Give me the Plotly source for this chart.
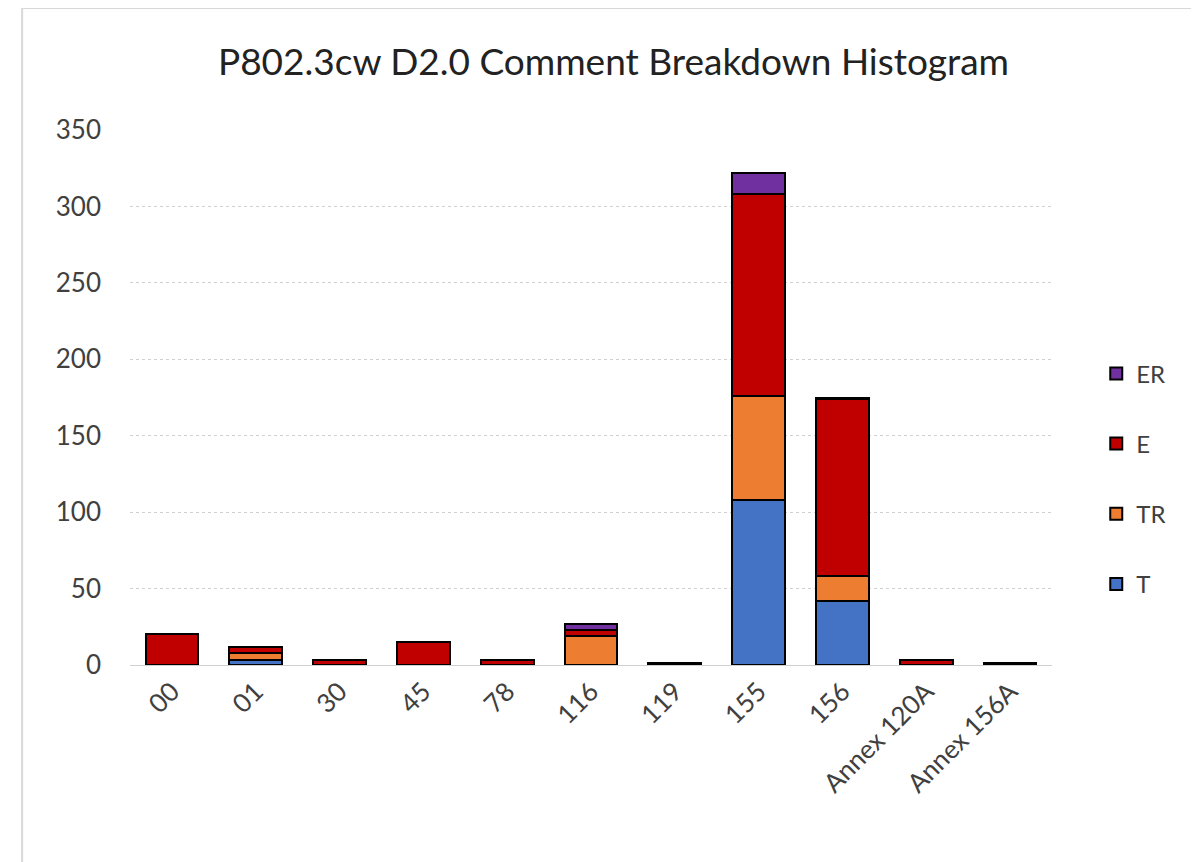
import plotly.graph_objects as go

categories = ["00", "01", "30", "45", "78", "116", "119", "155", "156", "Annex 120A", "Annex 156A"]
t_vals  = [0, 3, 0, 0, 0, 0, 0, 108, 42, 0, 0]
tr_vals = [0, 5, 0, 0, 0, 19, 0, 68, 16, 0, 0]
e_vals  = [20, 4, 3, 15, 3, 4, 1, 132, 116, 3, 1]
er_vals = [0, 0, 0, 0, 0, 4, 0, 14, 1, 0, 0]

series = [("T", t_vals, "#4472C4", 4), ("TR", tr_vals, "#ED7D31", 3),
          ("E", e_vals, "#C00000", 2), ("ER", er_vals, "#7030A0", 1)]

fig = go.Figure()
for name, vals, color, rank in series:
    fig.add_trace(go.Bar(x=categories, y=vals, name=name, legendgroup=name, legendrank=rank,
                         marker=dict(color=color, line=dict(color="black", width=2))))

font = "Lato, 'Open Sans', sans-serif"
fig.update_layout(
    barmode="stack", bargap=0.37,
    width=1199, height=862,
    paper_bgcolor="white", plot_bgcolor="white",
    margin=dict(l=122, r=155, t=122, b=205),
    title=dict(text="P802.3cw D2.0 Comment Breakdown Histogram", x=0.505, xanchor="center",
               y=0.937, yanchor="middle",
               font=dict(family=font, size=37, color="#222222")),
    legend=dict(x=1.048, y=0.348, xanchor="left", yanchor="middle",
                traceorder="grouped", tracegroupgap=36,
                font=dict(family=font, size=24, color="#404040")),
    font=dict(family=font),
    yaxis=dict(range=[0, 350], dtick=50, showgrid=True, gridcolor="#d0d0d0", griddash="dot",
               gridwidth=1, zeroline=False, showline=False, ticks="",
               tickfont=dict(family=font, size=26, color="#404040"), ticklabelstandoff=28),
    xaxis=dict(tickangle=-45, showline=True, linecolor="#d0d0d0", linewidth=1, ticks="",
               tickfont=dict(family=font, size=26, color="#404040")),
    showlegend=True,
)
fig.add_shape(type="line", xref="paper", yref="paper", x0=-0.117, x1=1.2, y0=1.228, y1=1.228,
              line=dict(color="#d8d8d8", width=2))
fig.add_shape(type="line", xref="paper", yref="paper", x0=-0.117, x1=-0.117, y0=-0.4, y1=1.228,
              line=dict(color="#d8d8d8", width=2))
fig.write_html("out.html")
